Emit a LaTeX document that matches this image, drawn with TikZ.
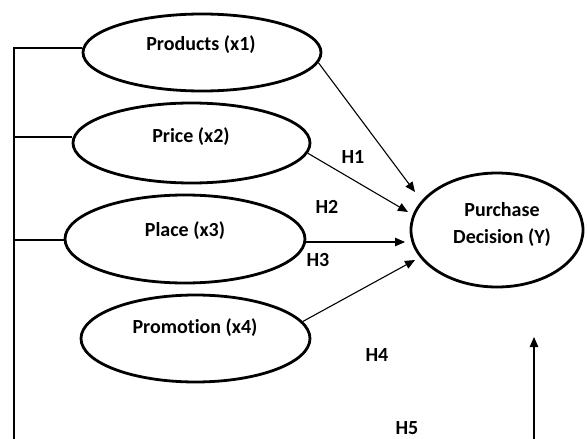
\documentclass[tikz,border=0pt]{standalone}
\usepackage{fontspec}
\setmainfont{Carlito}[Ligatures=NoCommon]
\usetikzlibrary{shapes.geometric,arrows.meta}
\tikzset{
  ell/.style={ellipse, draw, line width=2.8pt, inner sep=0pt},
  lbl/.style={font=\bfseries\fontsize{20}{24}\selectfont, inner sep=0pt},
  conn/.style={line width=1.1pt},
  arr/.style={conn, -{Triangle[length=10pt,width=8.5pt]}},
}
\begin{document}
\begin{tikzpicture}[x=1pt,y=-1pt]
\useasboundingbox (0,0) rectangle (587,439);
% ellipses
\node[ell, minimum width=238pt, minimum height=77pt] (p1) at (202,52.5) {};
\node[lbl] (t1) at (201,45) {Products (x1)};
\node[ell, minimum width=237pt, minimum height=80pt] (p2) at (191.5,143) {};
\node[lbl] (t2) at (191,137) {Price (x2)};
\node[ell, minimum width=240pt, minimum height=88pt] (p3) at (185,239) {};
\node[lbl] (t3) at (185,231) {Place (x3)};
\node[ell, minimum width=229pt, minimum height=87pt] (p4) at (195.5,338.5) {};
\node[lbl] (t4) at (195,328) {Promotion (x4)};
\node[ell, minimum width=172pt, minimum height=114pt] (pd) at (497,230) {};
\node[lbl, align=center, font=\bfseries\fontsize{20}{27}\selectfont] (td) at (502,224) {Purchase\\Decision (Y)};
% hypothesis labels
\node[lbl] (h1) at (353,157) {H1};
\node[lbl] (h2) at (327,207) {H2};
\node[lbl] (h3) at (318,260) {H3};
\node[lbl] (h4) at (377,355) {H4};
\node[lbl] (h5) at (407,428) {H5};
% coordinates
\coordinate (a1) at (415,192);
\coordinate (a2) at (408,212);
\coordinate (a3) at (405,242);
\coordinate (a4) at (415,260);
\coordinate (a5) at (534,337);
\coordinate (b5) at (534,439);
\coordinate (l0) at (14,48);
\coordinate (l1) at (14,137);
\coordinate (l2) at (14,240);
\coordinate (lb) at (14,439);
% arrows
\draw[arr] (p1.-5) -- (a1);
\draw[arr] (p2.-5) -- (a2);
\draw[arr] (p3.east |- a3) -- (a3);
\draw[arr] (p4.9) -- (a4);
\draw[arr] (b5) -- (a5);
% left bracket
\draw[conn] (lb) -- (l0) -- (p1.west |- l0);
\draw[conn] (l1) -- (p2.west |- l1);
\draw[conn] (l2) -- (p3.west |- l2);
\end{tikzpicture}
\end{document}
